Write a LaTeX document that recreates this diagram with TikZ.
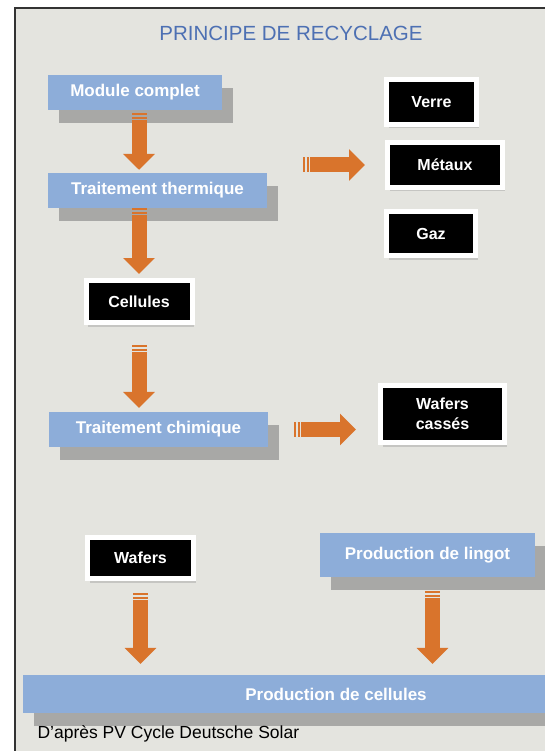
\documentclass[tikz,border=0pt]{standalone}
\usepackage{fontspec}
\setmainfont{Liberation Sans}
\usetikzlibrary{arrows.meta,shadows}
\definecolor{boxblue}{HTML}{8DADD9}
\definecolor{shadowgray}{HTML}{A8A8A6}
\definecolor{paper}{HTML}{E4E4DF}
\definecolor{titleblue}{HTML}{4D70B3}
\definecolor{arroworange}{HTML}{D9742C}

\begin{document}
\begin{tikzpicture}[
    x=1pt, y=-1pt,
    stage/.style={fill=boxblue, text=white, inner sep=2pt, minimum height=35pt,
                  font=\bfseries\fontsize{17}{20}\selectfont,
                  drop shadow={shadow xshift=11pt, shadow yshift=-13pt,
                               fill=shadowgray, opacity=1}},
    product/.style={fill=black, draw=white, line width=5pt, text=white,
                    align=center, inner sep=2pt,
                    font=\bfseries\fontsize{16}{20}\selectfont,
                    drop shadow={shadow xshift=2pt, shadow yshift=-4pt, opacity=0.3}},
    flow/.style={draw=arroworange, line width=15pt,
                 -{Triangle[length=16pt,width=31pt]},
                 dash pattern=on 2pt off 1.5pt on 2pt off 1.5pt on 3000pt}
  ]
    \path[use as bounding box] (0,0) rectangle (545,751);
    \clip (0,0) rectangle (545,751);
    \fill[white] (0,0) rectangle (545,751);
    \draw[fill=paper, line width=2pt, draw=black!80] (15,8) rectangle (570,780);

    \node[text=titleblue, font=\fontsize{20.5}{24}\selectfont] (title) at (291,33)
      {PRINCIPE DE RECYCLAGE};

    \node[stage, minimum width=174pt] (module) at (135,92.5) {Module complet};
    \node[stage, minimum width=219pt] (thermique) at (157.5,190.5) {Traitement thermique};
    \node[stage, minimum width=219pt] (chimique) at (158.5,429.5) {Traitement chimique};
    \node[stage, minimum width=215pt, minimum height=44pt] (lingot) at (427.5,555)
      {Production de lingot};
    \node[stage, minimum width=626pt, minimum height=38pt] (cellprod) at (336,694)
      {Production de cellules};

    \node[product, minimum width=90pt, minimum height=45pt] (verre) at (431.5,102) {Verre};
    \node[product, minimum width=115pt, minimum height=45pt] (metaux) at (445,165) {Métaux};
    \node[product, minimum width=89pt, minimum height=44pt] (gaz) at (431,233.5) {Gaz};
    \node[product, minimum width=106pt, minimum height=42pt] (cellules) at (139,301.5) {Cellules};
    \node[product, minimum width=124pt, minimum height=57pt] (cassees) at (442.5,414)
      {Wafers\\cassés};
    \node[product, minimum width=106pt, minimum height=41pt] (wafers) at (140.5,558) {Wafers};

    \node[anchor=west, font=\fontsize{17.5}{20}\selectfont] (source) at (34,734)
      {D'après PV Cycle Deutsche Solar};

    \draw[flow, shorten <=3pt, shorten >=3pt] (module.south -| cellules) -- (thermique.north -| cellules);
    \draw[flow, shorten >=4pt] (thermique.south -| cellules) -- (cellules.north);
    \draw[flow, shorten <=20pt, shorten >=4pt] (cellules.south) -- (chimique.north -| cellules);
    \draw[flow, shorten <=36pt, shorten >=20pt] (metaux.west -| thermique.east) -- (metaux.west);
    \draw[flow, shorten <=26pt, shorten >=22pt] (chimique.east) -- (chimique.east -| cassees.west);
    \draw[flow, shorten <=12pt, shorten >=11pt] (wafers.south) -- (wafers.south |- cellprod.north);
    \draw[flow, shorten <=14pt, shorten >=11pt] ([xshift=5pt]lingot.south) -- ([xshift=5pt]lingot.south |- cellprod.north);
\end{tikzpicture}
\end{document}
